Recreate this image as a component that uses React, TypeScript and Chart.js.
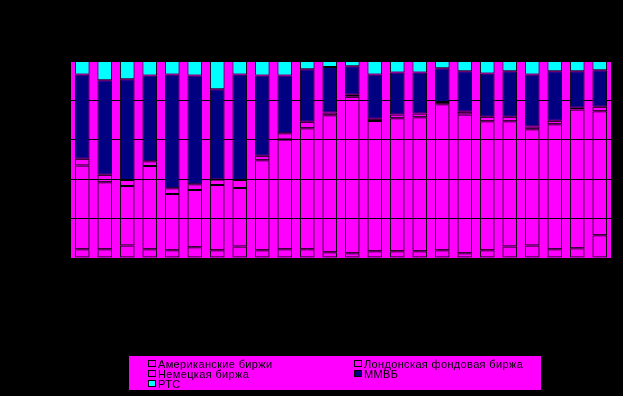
import React, { useEffect, useRef } from "react";
import { Chart, registerables } from "chart.js";

Chart.register(...registerables);

const categories = ["1","2","3","4","5","6","7","8","9","10","11","12","13","14","15","16","17","18","19","20","21","22","23","24"];
const seriesNames = ["Американские биржи", "Лондонская фондовая биржа", "Немецкая биржа", "ММВБ", "РТС"];
const american = [4.4,4.4,6.4,4.4,3.9,5.4,3.9,5.9,3.9,4.4,4.4,2.9,2.4,3.4,3.4,3.4,3.9,2.4,3.9,5.9,6.4,4.4,4.9,11.5];
const london = [42.6,34.0,30.1,42.3,28.6,29.1,33.2,29.6,45.7,55.8,61.4,69.5,79.5,66.1,67.5,68.0,74.1,70.5,65.5,63.5,58.9,63.5,70.5,63.0];
const german = [3.4,3.9,3.1,2.4,2.9,2.9,2.7,4.1,2.3,3.1,3.4,1.4,1.0,1.2,2.0,1.9,1.2,1.4,2.3,2.3,1.4,1.8,0.9,2.3];
const micex = [42.8,47.9,51.1,43.6,57.8,55.3,45.8,53.6,40.8,29.4,26.6,23.2,14.4,22.5,21.3,20.9,17.1,20.5,22.0,23.1,26.5,25.1,18.5,18.5];
const rts = [6.8,9.8,9.3,7.3,6.8,7.3,14.4,6.8,7.3,7.3,4.2,3.0,2.7,6.8,5.8,5.8,3.7,5.2,6.3,5.2,6.8,5.2,5.2,4.7];
const yTicks = [0, 20, 40, 60, 80, 100];

const fills = ["rgba(0,0,0,0)", "rgba(0,0,0,0)", "rgba(0,0,0,0)", "#000080", "#00FFFF"];
const legendFills = ["#FF00FF", "#FF00FF", "#FF00FF", "#000080", "#00FFFF"];

const bgPlugin = {
  id: "bgPlugin",
  beforeDraw(chart: any) {
    const { ctx, chartArea } = chart;
    ctx.save();
    ctx.fillStyle = "#000000";
    ctx.fillRect(0, 0, chart.width, chart.height);
    ctx.fillStyle = "#FF00FF";
    ctx.fillRect(chartArea.left, chartArea.top, chartArea.right - chartArea.left, chartArea.bottom - chartArea.top);
    ctx.restore();
  },
};

const legendPlugin = {
  id: "boxLegend",
  afterDraw(chart: any) {
    const ctx = chart.ctx;
    ctx.save();
    ctx.fillStyle = "#FF00FF";
    ctx.fillRect(129, 356, 412, 34);
    const positions = [
      [148, 360], [354, 360],
      [148, 370], [354, 370],
      [148, 380],
    ];
    ctx.font = "11px 'Liberation Sans', Arial, sans-serif";
    try { (ctx as any).letterSpacing = "0.35px"; } catch (e) {}
    ctx.textBaseline = "alphabetic";
    seriesNames.forEach((name, i) => {
      const [x, y] = positions[i];
      ctx.fillStyle = legendFills[i];
      ctx.fillRect(x, y, 8, 7);
      ctx.strokeStyle = "#000000";
      ctx.lineWidth = 1;
      ctx.strokeRect(x + 0.5, y + 0.5, 7, 6);
      ctx.fillStyle = "#000000";
      ctx.fillText(name, x + 10, y + 8);
    });
    ctx.restore();
  },
};

export default function App() {
  const ref = useRef<HTMLCanvasElement | null>(null);
  useEffect(() => {
    document.body.style.margin = "0";
    document.body.style.background = "#000";
    const data = [american, london, german, micex, rts];
    const chart = new Chart(ref.current as HTMLCanvasElement, {
      type: "bar",
      data: {
        labels: categories,
        datasets: seriesNames.map((name, i) => ({
          label: name,
          data: data[i],
          backgroundColor: fills[i],
          borderColor: "#000000",
          borderWidth: 1,
          borderSkipped: false,
          categoryPercentage: 1,
          barPercentage: 0.65,
        })),
      },
      options: {
        responsive: false,
        animation: false,
        layout: { padding: { left: 71, right: 12, top: 61, bottom: 138 } },
        plugins: { legend: { display: false }, tooltip: { enabled: false } },
        scales: {
          x: { stacked: true, display: false },
          y: {
            stacked: true,
            min: 0,
            max: 100,
            afterBuildTicks(axis: any) {
              axis.ticks = yTicks.map((v) => ({ value: v }));
            },
            ticks: { display: false },
            grid: { color: "#000000", lineWidth: 1, drawTicks: false },
            border: { display: false },
          },
        },
      },
      plugins: [bgPlugin, legendPlugin],
    });
    return () => chart.destroy();
  }, []);
  return <canvas ref={ref} width={623} height={396} style={{ display: "block" }} />;
}
